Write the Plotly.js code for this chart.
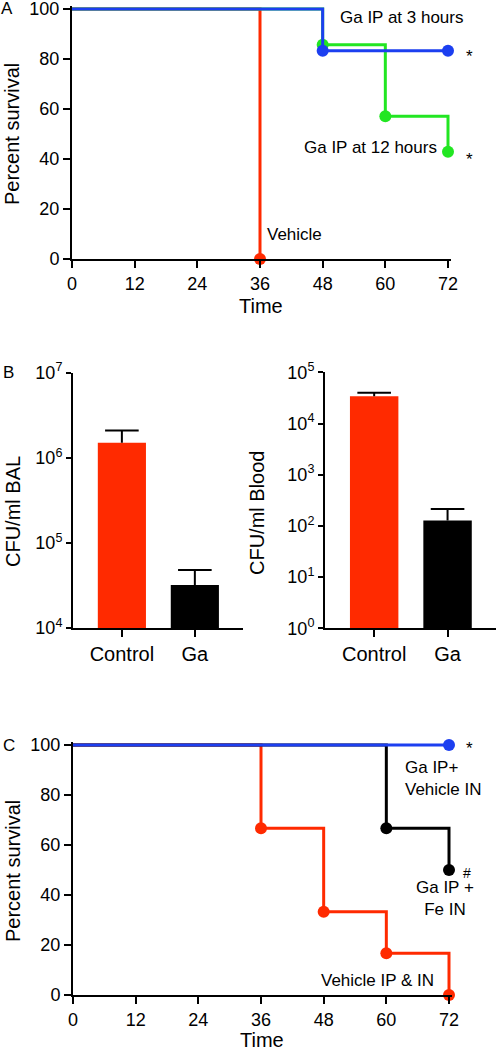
<!DOCTYPE html>
<html>
<head>
<meta charset="utf-8">
<script src="https://cdn.plot.ly/plotly-3.0.1.min.js"></script>
<style>
html,body{margin:0;padding:0;background:#fff;}
#chart{width:496px;height:1050px;}
</style>
</head>
<body>
<div id="chart"></div>
<script>
// ---------- data ----------
const timeTicks = [0, 12, 24, 36, 48, 60, 72];
const survivalTicks = [0, 20, 40, 60, 80, 100];

// Panel A (percent survival over time)
const aVehicleTime = [0, 36];
const aVehicleSurv = [100, 0];
const aGa3Time = [0, 48, 72];
const aGa3Surv = [100, 83.3, 83.3];
const aGa12Time = [0, 48, 60, 72];
const aGa12Surv = [100, 85.7, 57.1, 42.9];

// Panel B (CFU counts)
const groups = ['Control', 'Ga'];
const balMean = [1.5e6, 3.2e4];
const balSem = [0.6e6, 1.6e4];
const bloodMean = [3.4e4, 128];
const bloodSem = [0.6e4, 86];
const balTickVals = [1e4, 1e5, 1e6, 1e7];
const balTickText = ['10<sup>4</sup>', '10<sup>5</sup>', '10<sup>6</sup>', '10<sup>7</sup>'];
const bloodTickVals = [1, 10, 100, 1e3, 1e4, 1e5];
const bloodTickText = ['10<sup>0</sup>', '10<sup>1</sup>', '10<sup>2</sup>', '10<sup>3</sup>', '10<sup>4</sup>', '10<sup>5</sup>'];

// Panel C (percent survival over time)
const cGaVehTime = [0, 72];
const cGaVehSurv = [100, 100];
const cGaFeTime = [0, 60, 72];
const cGaFeSurv = [100, 66.7, 50];
const cVehTime = [0, 36, 48, 60, 72];
const cVehSurv = [100, 66.7, 33.3, 16.7, 0];

// ---------- styling ----------
const RED = '#ff2a00';
const BLUE = '#1c3ff0';
const GREEN = '#22e622';
const BLACK = '#000000';
const FONT = 'Liberation Sans, Arial, Helvetica, sans-serif';
const W = 496, H = 1050;
const px = v => v / W;
const py = v => 1 - v / H;

function km(t, s, color, xa, ya) {
  return {
    type: 'scatter', mode: 'lines+markers', x: t, y: s, xaxis: xa, yaxis: ya,
    line: {shape: 'hv', color: color, width: 3},
    marker: {color: color, opacity: 1, size: t.map((v, i) => i === 0 ? 0 : 12), line: {width: 0}},
    cliponaxis: false, hoverinfo: 'skip', showlegend: false
  };
}

function bars(y, xa, ya) {
  return {
    type: 'bar', x: groups, y: y, xaxis: xa, yaxis: ya, width: 0.66,
    marker: {color: [RED, BLACK], line: {width: 0}},
    hoverinfo: 'skip', showlegend: false
  };
}
// upper-only error bars: stem from mean to mean+sem, plus a cap
function errStem(mean, sem, xa, ya) {
  const xs = [], ys = [];
  groups.forEach((g, i) => { xs.push(g, g, null); ys.push(mean[i], mean[i] + sem[i], null); });
  return {type: 'scatter', mode: 'lines', x: xs, y: ys, xaxis: xa, yaxis: ya,
    line: {color: BLACK, width: 2}, hoverinfo: 'skip', showlegend: false, cliponaxis: false};
}
function errCap(mean, sem, xa, ya) {
  return {type: 'scatter', mode: 'markers', x: groups, y: mean.map((m, i) => m + sem[i]),
    xaxis: xa, yaxis: ya, cliponaxis: false, hoverinfo: 'skip', showlegend: false,
    marker: {symbol: 'line-ew', size: 24, color: BLACK, line: {color: BLACK, width: 2}}};
}

const data = [
  km(aVehicleTime, aVehicleSurv, RED, 'x', 'y'),
  km(aGa12Time, aGa12Surv, GREEN, 'x', 'y'),
  km(aGa3Time, aGa3Surv, BLUE, 'x', 'y'),
  bars(balMean, 'x2', 'y2'),
  errStem(balMean, balSem, 'x2', 'y2'),
  errCap(balMean, balSem, 'x2', 'y2'),
  bars(bloodMean, 'x3', 'y3'),
  errStem(bloodMean, bloodSem, 'x3', 'y3'),
  errCap(bloodMean, bloodSem, 'x3', 'y3'),
  km(cVehTime, cVehSurv, RED, 'x4', 'y4'),
  km(cGaFeTime, cGaFeSurv, BLACK, 'x4', 'y4'),
  km(cGaVehTime, cGaVehSurv, BLUE, 'x4', 'y4')
];

const baseAxis = {
  showline: true, linewidth: 2, linecolor: BLACK, showgrid: false, zeroline: false,
  ticks: 'outside', tickwidth: 2, tickcolor: BLACK, fixedrange: true,
  ticklabeloverflow: 'allow'
};
function timeAxis(dom, anchor) {
  return Object.assign({}, baseAxis, {domain: dom, anchor: anchor, range: [0, 72.6],
    tickmode: 'array', tickvals: timeTicks, ticklen: 7, tickfont: {size: 18, color: BLACK}});
}
function survAxis(dom, anchor) {
  return Object.assign({}, baseAxis, {domain: dom, anchor: anchor, range: [0, 101.2],
    tickmode: 'array', tickvals: survivalTicks, ticklen: 7, tickfont: {size: 18, color: BLACK}});
}
function catAxis(dom, anchor) {
  return Object.assign({}, baseAxis, {domain: dom, anchor: anchor, type: 'category',
    range: [-0.67, 1.66], ticklen: 7, tickfont: {size: 20, color: BLACK}});
}
function logAxis(dom, anchor, range, vals, text) {
  return Object.assign({}, baseAxis, {domain: dom, anchor: anchor, type: 'log', range: range,
    tickmode: 'array', tickvals: vals, ticktext: text, ticklen: 5, tickfont: {size: 18, color: BLACK}});
}

function ann(text, x, y, o) {
  return Object.assign({text: text, xref: 'paper', yref: 'paper', x: px(x), y: py(y),
    xanchor: 'center', yanchor: 'middle', showarrow: false,
    font: {size: 17, color: BLACK, family: FONT}}, o || {});
}
const TITLE_FONT = {size: 20, color: BLACK, family: FONT};

const annotations = [
  ann('A', 7, 9), ann('B', 8, 372), ann('C', 9, 745),
  // axis titles
  ann('Percent survival', 12, 134, {textangle: -90, font: TITLE_FONT}),
  ann('Time', 261, 306, {font: TITLE_FONT}),
  ann('CFU/ml BAL', 13, 512, {textangle: -90, font: TITLE_FONT}),
  ann('CFU/ml Blood', 257, 513, {textangle: -90, font: TITLE_FONT}),
  ann('Percent survival', 13, 871, {textangle: -90, font: TITLE_FONT}),
  ann('Time', 262, 1040, {font: TITLE_FONT}),
  // panel A labels
  ann('Ga IP at 3 hours', 401, 18),
  ann('*', 469, 57),
  ann('Ga IP at 12 hours', 370, 147),
  ann('*', 469, 159),
  ann('Vehicle', 294, 235),
  // panel C labels
  ann('*', 469, 748),
  ann('Ga IP+<br>Vehicle IN', 403, 778, {xanchor: 'left', align: 'left'}),
  ann('#', 467, 873, {font: {size: 14, color: BLACK, family: FONT}}),
  ann('Ga IP +<br>Fe IN', 445, 898),
  ann('Vehicle IP &amp; IN', 377, 980)
];

// pixel geometry: survival 0..100 maps to 250 px, time 0..72 maps to 376 px
const aTop = 9 - 1.2 * 2.5, cTop = 745 - 1.2 * 2.5;
const aRight = 448 + 0.6 * 376 / 72, cRight = 449 + 0.6 * 376 / 72;

const layout = {
  width: W, height: H,
  margin: {l: 0, r: 0, t: 0, b: 0},
  paper_bgcolor: '#ffffff', plot_bgcolor: '#ffffff',
  font: {family: FONT, color: BLACK},
  showlegend: false,
  xaxis: timeAxis([px(72), px(aRight)], 'y'),
  yaxis: survAxis([py(259), py(aTop)], 'x'),
  xaxis2: catAxis([px(73), px(243)], 'y2'),
  yaxis2: logAxis([py(628), py(372.7)], 'x2', [4, 7], balTickVals, balTickText),
  xaxis3: catAxis([px(325), px(496)], 'y3'),
  yaxis3: logAxis([py(628.3), py(372.3)], 'x3', [0, 5], bloodTickVals, bloodTickText),
  xaxis4: timeAxis([px(73), px(cRight)], 'y4'),
  yaxis4: survAxis([py(995), py(cTop)], 'x4'),
  annotations: annotations
};

Plotly.newPlot('chart', data, layout, {staticPlot: true, displayModeBar: false});
</script>
</body>
</html>
